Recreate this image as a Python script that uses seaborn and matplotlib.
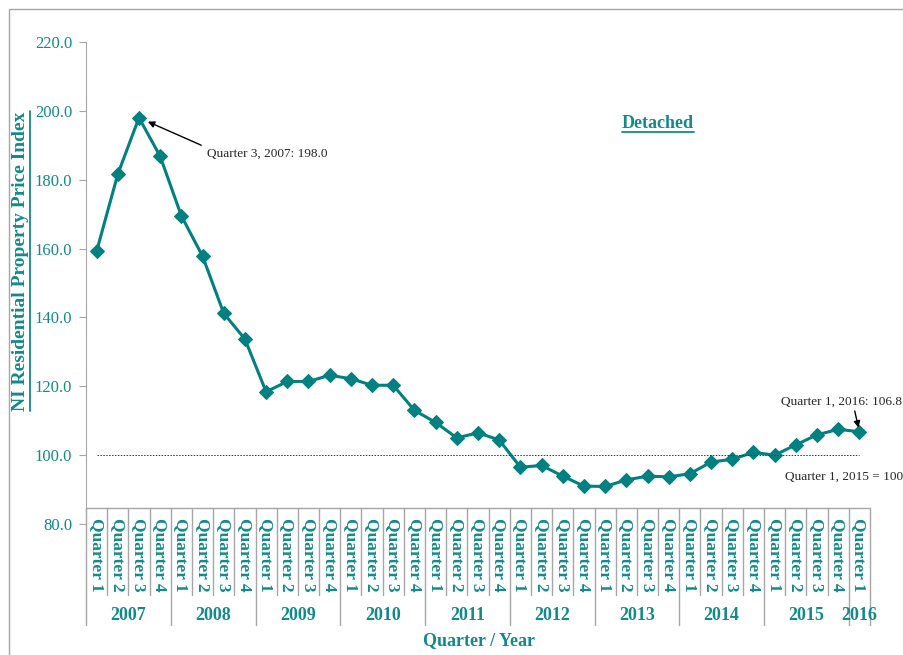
import numpy as np
import pandas as pd
import seaborn as sns
import matplotlib.pyplot as plt
import matplotlib.transforms as mtransforms
from matplotlib.lines import Line2D
from matplotlib.patches import Rectangle

# data
years = ['2007', '2008', '2009', '2010', '2011', '2012', '2013', '2014', '2015', '2016']
quarters = ['Quarter 1', 'Quarter 2', 'Quarter 3', 'Quarter 4']
index_values = [159.2, 181.6, 198.0, 186.8,
                169.5, 157.8, 141.2, 133.7,
                118.4, 121.4, 121.4, 123.2,
                122.2, 120.3, 120.3, 113.0,
                109.5, 105.0, 106.5, 104.4,
                96.5, 97.0, 93.9, 91.0,
                90.9, 92.8, 93.9, 93.7,
                94.6, 98.0, 98.8, 100.8,
                100.0, 103.0, 105.9, 107.5,
                106.8]
base_value = 100
yticks = [80, 100, 120, 140, 160, 180, 200, 220]

labels = [(y, q) for y in years for q in quarters][:len(index_values)]
df = pd.DataFrame({'pos': range(len(index_values)),
                   'year': [l[0] for l in labels],
                   'quarter': [l[1] for l in labels],
                   'index': index_values})

teal = '#008080'
teal_txt = '#138a8a'
grey = '#a6a6a6'

sns.set_style('white')
plt.rcParams['font.family'] = ['Liberation Serif', 'DejaVu Serif']

fig = plt.figure(figsize=(9.04, 6.55), dpi=100)
ax = fig.add_axes([86/904, 131/655, 784/904, 482/655])

sns.lineplot(data=df, x='pos', y='index', ax=ax, color=teal, lw=2.2,
             marker='D', markersize=7, markeredgecolor=teal, markerfacecolor=teal)

n = len(df)
ax.set_xlim(-0.5, n - 0.5)
ax.set_ylim(yticks[0], yticks[-1])
ax.set_yticks(yticks)
ax.set_yticklabels(['%.1f' % v for v in yticks], color=teal_txt, fontsize=12)
ax.set_xticks([])
ax.set_xlabel('')
ax.set_ylabel('')
for s in ['top', 'right', 'bottom']:
    ax.spines[s].set_visible(False)
ax.spines['left'].set_color(grey)
ax.tick_params(axis='y', length=5, color=grey, direction='out', left=True, pad=5)

# base line
ax.plot([0, n - 1], [base_value, base_value], color='#333333', lw=0.7, ls=(0, (1.5, 1.5)))

# category table under the plot
trans = mtransforms.blended_transform_factory(ax.transData, ax.transAxes)
top_y = (524 - 508) / 482
q_bot = (524 - 595) / 482
y_bot = (524 - 625) / 482
ax.add_line(Line2D([-0.5, n - 0.5], [top_y, top_y], transform=trans, color=grey, lw=1, clip_on=False))
for i in range(n + 1):
    xb = i - 0.5
    is_year = (i % 4 == 0) or i == n
    ax.add_line(Line2D([xb, xb], [top_y, y_bot if is_year else q_bot], transform=trans,
                       color=grey, lw=1, clip_on=False))
for i, row in df.iterrows():
    ax.text(row['pos'], (524 - 518) / 482, row['quarter'], transform=trans, rotation=270,
            ha='center', va='top', fontsize=12.5, fontweight='bold', color=teal_txt, clip_on=False)
for yr, grp in df.groupby('year'):
    ax.text(grp['pos'].mean(), (524 - 615) / 482, yr, transform=trans, ha='center', va='center',
            fontsize=13, fontweight='bold', color=teal_txt, clip_on=False)

fig.text(479/904, 14/655, 'Quarter / Year', ha='center', va='center', fontsize=13,
         fontweight='bold', color=teal_txt)

ylab = fig.text(21/904, 1 - 261/655, 'NI Residential Property Price Index', rotation=90,
                ha='center', va='center', fontsize=14, fontweight='bold', color=teal_txt)
title = fig.text(658/904, 1 - 123/655, 'Detached', ha='center', va='center', fontsize=13,
                 fontweight='bold', color=teal_txt)

# annotations
ax.annotate('Quarter 3, 2007: 198.0', xy=(2, 198.0), xytext=(68, -36), textcoords='offset pixels',
            ha='left', va='center', fontsize=9.5,
            arrowprops=dict(arrowstyle='-|>', color='black', lw=1, relpos=(0, 1), shrinkA=2, shrinkB=7))
ax.annotate('Quarter 1, 2016: 106.8', xy=(n - 1, index_values[-1]), xytext=(-78, 30),
            textcoords='offset pixels', ha='left', va='center', fontsize=9.5, annotation_clip=False,
            arrowprops=dict(arrowstyle='-|>', color='black', lw=1, relpos=(0.6, 0), shrinkA=0, shrinkB=3))
fig.text(785/904, 1 - 477/655, 'Quarter 1, 2015 = 100', ha='left', va='center', fontsize=9.5)

# figure frame
fig.patches.append(Rectangle((9/904, -0.5), 1.5, 1.5 - 9/655, transform=fig.transFigure,
                             fill=False, edgecolor=grey, lw=1))

# underlines
fig.canvas.draw()
r = fig.canvas.get_renderer()
inv = fig.transFigure.inverted()
bb = ylab.get_window_extent(r).transformed(inv)
fig.add_artist(Line2D([bb.x1 + 0.001, bb.x1 + 0.001], [bb.y0, bb.y1], transform=fig.transFigure,
                      color=teal_txt, lw=1.3))
bb = title.get_window_extent(r).transformed(inv)
fig.add_artist(Line2D([bb.x0, bb.x1], [bb.y0 - 0.001, bb.y0 - 0.001], transform=fig.transFigure,
                      color=teal_txt, lw=1.3))

fig.savefig('out.png', dpi=100)
